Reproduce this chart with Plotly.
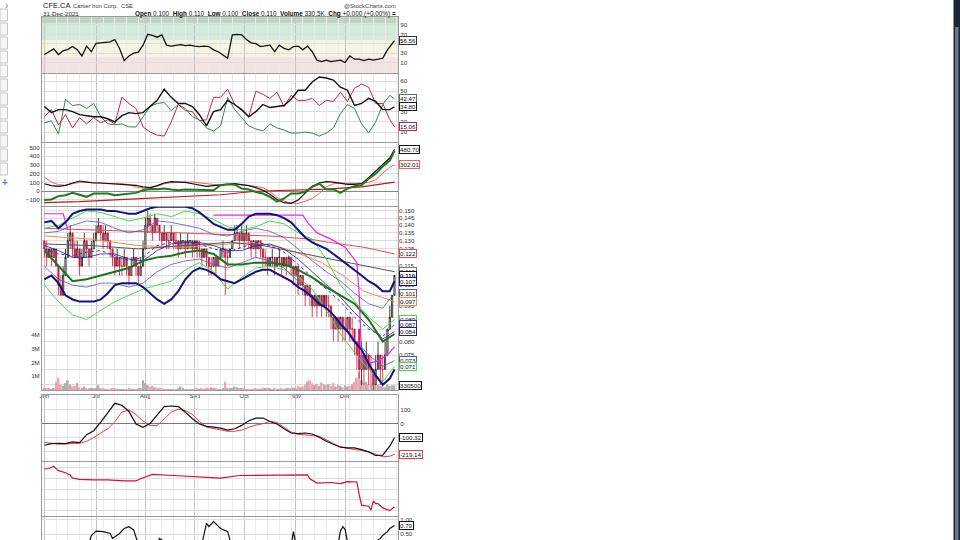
import math
import plotly.graph_objects as go

# ---------------- DATA ----------------
MONTHS = ["Jun", "Jul", "Aug", "Sep", "Oct", "Nov", "Dec"]
MONTH_IDX = [0, 22, 43, 64, 85, 107, 128]

OPEN = [0.13,0.125,0.12,0.125,0.12,0.125,0.115,0.105,0.10,0.11,
        0.12,0.13,0.135,0.125,0.12,0.125,0.115,0.12,0.13,0.125,
        0.12,0.125,0.13,0.135,0.14,0.135,0.13,0.135,0.13,0.125,
        0.12,0.115,0.12,0.115,0.115,0.12,0.115,0.11,0.115,0.12,
        0.115,0.11,0.115,0.125,0.14,0.145,0.14,0.135,0.145,0.14,
        0.135,0.13,0.135,0.13,0.13,0.135,0.13,0.13,0.125,0.13,
        0.13,0.125,0.13,0.13,0.125,0.13,0.125,0.125,0.12,0.125,
        0.12,0.115,0.115,0.12,0.115,0.12,0.125,0.125,0.12,0.12,
        0.125,0.13,0.135,0.135,0.13,0.135,0.13,0.135,0.13,0.125,
        0.13,0.125,0.13,0.125,0.12,0.12,0.115,0.12,0.12,0.115,
        0.12,0.12,0.115,0.12,0.115,0.12,0.115,0.11,0.115,0.105,
        0.11,0.105,0.10,0.105,0.10,0.095,0.10,0.095,0.10,0.095,
        0.10,0.095,0.095,0.09,0.085,0.09,0.085,0.09,0.085,0.085,
        0.09,0.085,0.085,0.08,0.085,0.07,0.075,0.07,0.075,0.07,
        0.07,0.065,0.07,0.075,0.07,0.07,0.075,0.085,0.09,0.10]
HIGH = [0.13,0.13,0.125,0.125,0.125,0.125,0.115,0.11,0.115,0.125,
        0.135,0.14,0.135,0.13,0.13,0.125,0.125,0.135,0.13,0.125,
        0.13,0.135,0.14,0.145,0.14,0.14,0.14,0.135,0.13,0.125,
        0.12,0.125,0.12,0.12,0.125,0.12,0.115,0.12,0.125,0.12,
        0.115,0.12,0.13,0.145,0.15,0.148,0.14,0.148,0.145,0.14,
        0.135,0.14,0.135,0.135,0.14,0.135,0.135,0.13,0.135,0.13,
        0.13,0.135,0.13,0.13,0.13,0.13,0.13,0.125,0.125,0.125,
        0.12,0.12,0.12,0.12,0.12,0.125,0.13,0.125,0.125,0.125,
        0.13,0.14,0.14,0.135,0.14,0.135,0.14,0.135,0.13,0.13,
        0.13,0.13,0.13,0.125,0.125,0.12,0.12,0.125,0.12,0.12,
        0.125,0.12,0.12,0.12,0.12,0.12,0.115,0.115,0.115,0.11,
        0.11,0.105,0.105,0.105,0.10,0.10,0.10,0.10,0.10,0.10,
        0.10,0.10,0.095,0.09,0.09,0.09,0.09,0.09,0.09,0.09,
        0.09,0.09,0.085,0.08,0.085,0.08,0.075,0.08,0.075,0.075,
        0.07,0.075,0.08,0.075,0.075,0.08,0.085,0.095,0.10,0.11]
LOW = [0.12,0.115,0.12,0.115,0.12,0.115,0.10,0.10,0.10,0.11,
       0.12,0.125,0.12,0.12,0.12,0.11,0.115,0.12,0.12,0.115,
       0.12,0.125,0.13,0.135,0.13,0.125,0.13,0.125,0.12,0.115,
       0.11,0.115,0.11,0.11,0.115,0.11,0.105,0.11,0.115,0.11,
       0.105,0.11,0.115,0.125,0.135,0.135,0.13,0.135,0.135,0.13,
       0.125,0.13,0.125,0.125,0.13,0.125,0.125,0.12,0.125,0.125,
       0.12,0.125,0.125,0.12,0.125,0.12,0.12,0.115,0.12,0.115,
       0.11,0.11,0.115,0.11,0.115,0.12,0.12,0.10,0.115,0.12,
       0.125,0.13,0.13,0.125,0.13,0.125,0.13,0.125,0.12,0.125,
       0.12,0.125,0.12,0.115,0.115,0.11,0.115,0.115,0.11,0.115,
       0.115,0.11,0.115,0.11,0.115,0.11,0.105,0.11,0.10,0.105,
       0.10,0.095,0.10,0.095,0.09,0.095,0.09,0.095,0.09,0.095,
       0.09,0.09,0.085,0.08,0.085,0.08,0.085,0.08,0.08,0.085,
       0.08,0.08,0.075,0.07,0.067,0.065,0.065,0.07,0.065,0.065,
       0.063,0.065,0.07,0.065,0.065,0.07,0.075,0.085,0.09,0.10]
CLOSE = [0.125,0.12,0.125,0.12,0.125,0.115,0.105,0.10,0.11,0.12,
         0.13,0.135,0.125,0.12,0.125,0.115,0.12,0.13,0.125,0.12,
         0.125,0.13,0.135,0.14,0.135,0.13,0.135,0.13,0.125,0.12,
         0.115,0.12,0.115,0.115,0.12,0.115,0.11,0.115,0.12,0.115,
         0.11,0.115,0.125,0.14,0.145,0.14,0.135,0.145,0.14,0.135,
         0.13,0.135,0.13,0.13,0.135,0.13,0.13,0.125,0.13,0.13,
         0.125,0.13,0.13,0.125,0.13,0.125,0.125,0.12,0.125,0.12,
         0.115,0.115,0.12,0.115,0.12,0.125,0.125,0.12,0.12,0.125,
         0.13,0.135,0.135,0.13,0.135,0.13,0.135,0.13,0.125,0.13,
         0.125,0.13,0.125,0.12,0.12,0.115,0.12,0.12,0.115,0.12,
         0.12,0.115,0.12,0.115,0.12,0.115,0.11,0.115,0.105,0.11,
         0.105,0.10,0.105,0.10,0.095,0.10,0.095,0.10,0.095,0.10,
         0.095,0.095,0.09,0.085,0.09,0.085,0.09,0.085,0.085,0.09,
         0.085,0.085,0.08,0.075,0.07,0.075,0.07,0.075,0.07,0.07,
         0.065,0.07,0.075,0.07,0.07,0.075,0.085,0.09,0.10,0.11]
VOLUME = [150000,120000,80000,60000,100000,600000,900000,400000,300000,500000,
          700000,400000,250000,300000,500000,200000,150000,250000,100000,80000,
          120000,90000,150000,350000,100000,80000,60000,50000,70000,90000,
          80000,60000,50000,40000,60000,70000,90000,50000,40000,60000,
          80000,150000,700000,500000,350000,250000,300000,200000,120000,90000,
          80000,60000,50000,70000,60000,50000,60000,80000,250000,100000,
          70000,60000,50000,40000,60000,80000,70000,90000,60000,100000,
          150000,200000,120000,80000,60000,70000,90000,600000,150000,100000,
          120000,250000,200000,100000,150000,80000,60000,70000,50000,60000,
          80000,70000,60000,90000,120000,150000,80000,60000,90000,70000,
          60000,90000,70000,80000,100000,120000,200000,150000,300000,200000,
          250000,400000,600000,700000,500000,350000,450000,300000,550000,400000,
          350000,450000,300000,500000,250000,400000,300000,200000,350000,250000,
          300000,400000,600000,900000,1300000,700000,500000,600000,450000,400000,
          500000,350000,400000,300000,250000,200000,400000,300000,350000,330500]

# RSI (every 2nd session + last)
RSI = [27,33,39,27,35,38,44,37,24,45,
       33,51,52,54,54,59,40,14,24,30,
       32,47,70,68,64,69,47,45,47,48,
       46,47,45,44,45,44,37,33,26,19,
       69,70,69,59,52,50,44,46,47,33,
       47,40,37,44,45,37,45,33,15,12,
       15,12,13,15,10,24,17,17,14,17,
       15,17,19,37,51,56.56]

# ADX / +DI / -DI (every 3rd session + last)
ADX = [35,29,32,32,30,27,26,25,25,23, 20,26,29,28,29,35,41,52,44,38,
       38,35,27,16,30,32,41,37,32,25, 30,37,34,35,36,42,51,51,59,64,
       63,61,54,51,36,38,43,40,32,32, 34.80]
PLUS_DI = [19,21,8,42,36,37,33,38,25,18, 17,18,15,15,25,35,38,39,31,37,
           33,25,22,14,11,16,44,32,24,16, 13,11,18,14,12,9,9,10,9,6,
           9,14,28,37,33,18,9,20,37,46, 42.47]
MINUS_DI = [25,32,17,27,14,24,18,24,19,22, 18,44,38,33,15,10,7,6,20,37,
            31,30,21,22,44,44,52,37,31,25, 50,47,43,49,35,46,41,41,43,36,
            41,40,49,40,53,57,54,38,38,22, 15.06]

# Momentum panel (every 3rd session + last)
MOM_BLACK = [86,64,56,68,94,117,105,94,94,90, 86,83,75,68,49,41,64,94,109,105,
             101,86,75,56,64,71,86,86,75,64, 41,11,-34,-94,-131,-139,-101,-19,56,94,
             109,105,94,79,79,86,154,229,304,380, 480.70]
MOM_SIGNAL = [162,105,75,68,86,101,105,98,90,86, 86,86,75,49,34,38,56,86,98,105,
              105,105,94,83,71,68,75,79,71,64, 56,41,-4,-71,-113,-135,-139,-116,-83,-26,
              49,86,94,90,86,90,101,131,207,274, 302.01]
MOM_GREEN = [-101,-94,-56,-45,-19,-45,-64,-26,-26,-26, -45,-34,-26,-19,11,26,23,30,19,11,
             19,19,11,11,11,68,79,75,30,19, -8,-26,-64,-120,-83,-26,-26,-8,49,86,
             19,23,-19,30,56,68,143,199,282,350, 462]
MOM_LONG_X = [0,15,30,45,60,75,90,105,120,135,149]
MOM_LONG = [-130,-120,-100,-80,-60,-40,0,10,25,50,105]

# Price overlays
BB_UPPER = [0.142,0.143,0.138,0.142,0.148,0.150,0.151,0.151,0.151,0.150,
            0.150,0.149,0.148,0.148,0.150,0.152,0.153,0.153,0.153,0.153,
            0.153,0.152,0.149,0.145,0.141,0.139,0.137,0.137,0.141,0.146,
            0.148,0.148,0.148,0.147,0.145,0.142,0.137,0.132,0.129,0.127,
            0.125,0.122,0.119,0.116,0.113,0.110,0.107,0.105,0.102,0.102,0.107]
BB_LOWER = [0.108,0.110,0.106,0.100,0.098,0.097,0.097,0.097,0.098,0.101,
            0.105,0.106,0.106,0.106,0.104,0.101,0.098,0.096,0.098,0.102,
            0.108,0.112,0.114,0.113,0.111,0.108,0.107,0.106,0.108,0.110,
            0.112,0.113,0.113,0.111,0.109,0.107,0.104,0.102,0.099,0.096,
            0.094,0.091,0.087,0.084,0.080,0.077,0.072,0.068,0.065,0.067,0.070]
ENV_UPPER = [0.138,0.14,0.145,0.15,0.149,0.146,0.143,0.145,0.148,0.146,0.15,0.148,0.144,
             0.139,0.137,0.139,0.143,0.141,0.135,0.131,0.119,0.105,0.097,0.090,0.085,0.089]
ENV_LOWER = [0.105,0.097,0.091,0.089,0.093,0.097,0.100,0.103,0.105,0.107,0.113,0.117,0.112,
             0.103,0.109,0.114,0.115,0.113,0.109,0.103,0.093,0.083,0.076,0.070,0.066,0.071]
KC_UPPER = [0.135,0.136,0.14,0.143,0.142,0.138,0.135,0.137,0.143,0.142,0.14,0.138,0.134,
            0.133,0.136,0.138,0.136,0.132,0.125,0.118,0.112,0.107,0.101,0.096,0.094,0.101]
KC_LOWER = [0.115,0.108,0.105,0.104,0.106,0.106,0.104,0.106,0.112,0.116,0.118,0.119,0.116,
            0.114,0.117,0.120,0.118,0.114,0.107,0.100,0.094,0.088,0.081,0.075,0.071,0.073]
KC_MID = [0.125,0.122,0.121,0.123,0.124,0.121,0.118,0.12,0.127,0.129,0.129,0.128,0.125,
          0.123,0.126,0.129,0.127,0.123,0.116,0.109,0.103,0.097,0.09,0.085,0.082,0.087]
NAVY_MID = [0.127,0.124,0.12,0.12,0.122,0.122,0.119,0.118,0.124,0.128,0.129,0.129,0.127,
            0.124,0.124,0.127,0.128,0.125,0.119,0.112,0.105,0.099,0.092,0.086,0.081,0.084]
STOP_LINE = [0.124,0.115,0.107,0.108,0.110,0.112,0.114,0.118,0.120,0.121,0.123,0.124,0.122,
             0.116,0.116,0.117,0.117,0.116,0.113,0.109,0.104,0.100,0.096,0.089,0.080,0.083]
CHAND_X = [0, 8, 10, None, 72, 110, 112, 116, 122, 128, 133, 134, 135, 138, 142, 146, 149]
CHAND = [0.148, 0.148, 0.137, None, 0.147, 0.147, 0.142, 0.135, 0.131, 0.126, 0.117,
         0.10, 0.074, 0.072, 0.073, 0.075, 0.078]
SMA200_X = [0, 20, 40, 60, 80, 96, 113, 121, 136, 149]
SMA200 = [0.138, 0.137, 0.136, 0.135, 0.134, 0.133, 0.131, 0.129, 0.126, 0.122]
SMA100_X = [0, 20, 40, 60, 79, 90, 100, 107, 118, 127, 136, 146, 149]
SMA100 = [0.133, 0.131, 0.127, 0.126, 0.128, 0.129, 0.126, 0.123, 0.117, 0.110, 0.102, 0.098, 0.097]
SMA50_X = [0, 20, 40, 60, 79, 93, 107, 121, 136, 149]
SMA50 = [0.128, 0.127, 0.125, 0.127, 0.129, 0.127, 0.123, 0.119, 0.115, 0.112]

# Oscillator panel (every 3rd session + last)
OSC = [-155,-143,-141,-143,-131,-136,-80,-52,9,80, 143,129,85,-4,-28,0,61,120,124,120,
       80,33,-4,-21,-26,-33,-47,-38,-14,19, 38,38,14,-4,-38,-68,-73,-68,-75,-98,
       -127,-150,-169,-174,-174,-186,-202,-228,-225,-162, -100.32]
OSC_SIG = [-134,-143,-148,-146,-143,-141,-127,-101,-68,-38, 12,80,96,63,16,-14,-16,33,80,101,
           92,63,14,-26,-35,-42,-56,-56,-47,-28, -12,-2,14,7,-26,-61,-77,-84,-87,-91,
           -120,-143,-167,-179,-186,-191,-202,-219,-237,-233, -219.14]

# Relative-strength style line
REL_X = [0,2,4,6,9,11,12,15,21,27,34,39,41,44,46,55,62,69,75,83,98,112,113,116,122,126,
         129,133,134,135,138,139,140,141,142,144,147,149]
REL = [87,88,92,84,80,76,70,68,67,67,65,65,69,74,77,75,73,72,70,75,76,76,69,61,62,60,
       63.5,63,39,20,18,11,28,23,23,15,10,17]

# Bottom panel
BOT_X = [0,19,20,21,22,25,28,29,32,34,36,38,39,40,48,49,50,51,67,68,69,70,72,75,78,79,80,
         105,106,107,125,126,127,128,129,141,143,144,146,147,148,149]
BOT = [0.2,0.2,0.45,0.52,0.60,0.58,0.52,0.35,0.52,0.69,0.75,0.64,0.3,0.15,0.15,0.35,0.3,0.15,
       0.15,0.5,0.86,0.75,0.92,0.69,0.58,0.3,0.1,0.1,0.58,0.15,0.15,0.6,0.75,0.65,0.25,0.25,
       0.35,0.45,0.58,0.69,0.75,0.79]

# ---------------- LAYOUT HELPERS ----------------
W, H = 960, 540
FONT = "Liberation Sans, Arial, sans-serif"
N = len(CLOSE)
DAYS = list(range(N))
RSI_X = list(range(0, N - 1, 2)) + [N - 1]
X3 = list(range(0, N - 2, 3)) + [N - 1]
X6 = list(range(0, N - 5, 6)) + [N - 1]


def fx(px):
    return px / W


def fy(py):
    return 1 - py / H


XD = [fx(42), fx(398)]
XR = [-1, 150.5]
PANELS = {1: (17, 73), 2: (74, 142), 3: (143, 206), 4: (207, 390),
          5: (395, 461), 6: (462, 516), 7: (517, 540)}

fig = go.Figure()


def line(x, y, xa, ya, color, width=1, dash=None):
    fig.add_trace(go.Scatter(x=x, y=y, xaxis=xa, yaxis=ya, mode="lines",
                             line=dict(color=color, width=width, dash=dash),
                             connectgaps=False, showlegend=False, hoverinfo="skip"))


# Panel 1: RSI
line(RSI_X, RSI, "x", "y", "#111111", 1.3)
# Panel 2: ADX
line(X3, PLUS_DI, "x2", "y2", "#2e8b45", 1)
line(X3, MINUS_DI, "x2", "y2", "#cc2250", 1)
line(X3, ADX, "x2", "y2", "#111111", 1.4)
# Panel 3
line(MOM_LONG_X, MOM_LONG, "x3", "y3", "#c01818", 1.2)
line(X3, MOM_SIGNAL, "x3", "y3", "#ff5a5a", 1)
line(X3, MOM_BLACK, "x3", "y3", "#111111", 1.2)
line(X3, MOM_GREEN, "x3", "y3", "#1d7a1d", 2)

# Panel 4: volume (base axis y4) + price (overlay y8)
vcol = ["#b0b0b0" if i == 0 or CLOSE[i] >= CLOSE[i - 1] else "#f2a4b0" for i in range(N)]
fig.add_trace(go.Bar(x=DAYS, y=VOLUME, xaxis="x4", yaxis="y4", marker=dict(color=vcol, line=dict(width=0)),
                     width=0.8, showlegend=False, hoverinfo="skip"))

line(SMA200_X, SMA200, "x4", "y8", "#e84a4a", 1)
line(SMA100_X, SMA100, "x4", "y8", "#f28a4a", 1)
line(SMA50_X, SMA50, "x4", "y8", "#555555", 1)
line(X6, ENV_UPPER, "x4", "y8", "#44dd44", 1)
line(X6, ENV_LOWER, "x4", "y8", "#44dd44", 1)
line(X6, KC_UPPER, "x4", "y8", "#5656b8", 0.8)
line(X6, KC_LOWER, "x4", "y8", "#5656b8", 0.8)
line(X6, NAVY_MID, "x4", "y8", "#20208a", 0.8)
line(X6, KC_MID, "x4", "y8", "#3333cc", 1, "dot")
line(X6, STOP_LINE, "x4", "y8", "#1a741a", 2)
line(CHAND_X, CHAND, "x4", "y8", "#ee22ee", 1.2)
line(X3, BB_UPPER, "x4", "y8", "#12127e", 2)
line(X3, BB_LOWER, "x4", "y8", "#12127e", 2)

fig.add_trace(go.Candlestick(x=DAYS, open=OPEN, high=HIGH, low=LOW, close=CLOSE,
                             xaxis="x4", yaxis="y8", whiskerwidth=0,
                             increasing=dict(line=dict(color="#111111", width=0.8), fillcolor="white"),
                             decreasing=dict(line=dict(color="#d0103a", width=0.8), fillcolor="#d0103a"),
                             showlegend=False, hoverinfo="skip"))

# Panel 5
line(X3, OSC_SIG, "x5", "y5", "#ff3535", 1)
line(X3, OSC, "x5", "y5", "#111111", 1.2)
# Panel 6
line(REL_X, REL, "x6", "y6", "#d0103a", 1.2)
# Panel 7
line(BOT_X, BOT, "x7", "y7", "#111111", 1.2)

# ---------------- AXES ----------------
tickfont = dict(family=FONT, size=6.2, color="#333333")
common_x = dict(range=XR, tickmode="array", tickvals=MONTH_IDX, ticktext=MONTHS,
                showgrid=True, gridcolor="#c4c4c4", gridwidth=1, zeroline=False,
                showline=True, mirror=True, linecolor="#9a9a9a", linewidth=1,
                minor=dict(tickmode="linear", tick0=0, dtick=5, showgrid=True, gridcolor="#ebebeb"),
                ticks="", fixedrange=True, automargin=False,
                tickfont=dict(family=FONT, size=6, color="#333333"))

layout_axes = {}
for k in range(1, 8):
    name = "xaxis" if k == 1 else f"xaxis{k}"
    yname = "y" if k == 1 else f"y{k}"
    ax = dict(common_x, domain=XD, anchor=yname, showticklabels=(k == 4))
    if k == 4:
        ax["rangeslider"] = dict(visible=False)
    layout_axes[name] = ax


def ydom(k):
    top, bot = PANELS[k]
    return [fy(bot), fy(top)]


common_y = dict(showgrid=True, gridcolor="#dedede", zeroline=False, showline=True, mirror=True,
                linecolor="#9a9a9a", linewidth=1, ticks="", tickfont=tickfont, fixedrange=True,
                automargin=False)

layout_axes["yaxis"] = dict(common_y, domain=ydom(1), anchor="x", side="right", range=[-12.4, 107],
                            tickvals=[10, 30, 50, 70, 90], ticktext=["10", "30", "", "70", "90"])
layout_axes["yaxis2"] = dict(common_y, domain=ydom(2), anchor="x2", side="right", range=[0.2, 66.9],
                             tickvals=[10, 20, 30, 40, 50, 60], ticktext=["10", "20", "30", "", "50", "60"])
layout_axes["yaxis3"] = dict(common_y, domain=ydom(3), anchor="x3", side="left", range=[-169, 552],
                             tickvals=[-100, 0, 100, 200, 300, 400, 500], zeroline=True,
                             zerolinecolor="#888888", zerolinewidth=1)
layout_axes["yaxis4"] = dict(common_y, domain=ydom(4), anchor="x4", side="left", range=[0, 13.3e6],
                             tickvals=[1e6, 2e6, 3e6, 4e6], ticktext=["1M", "2M", "3M", "4M"],
                             showgrid=False)
PRICE_TICKS = [0.065 + 0.005 * k for k in range(18)]
HIDDEN = {0.065, 0.07, 0.085, 0.09, 0.1, 0.11, 0.12}
layout_axes["yaxis8"] = dict(common_y, overlaying="y4", anchor="x4", side="right", type="log",
                             range=[math.log10(0.0634), math.log10(0.1529)],
                             tickvals=PRICE_TICKS,
                             ticktext=["" if round(v, 3) in HIDDEN else f"{v:.3f}" for v in PRICE_TICKS],
                             showline=False)
layout_axes["yaxis5"] = dict(common_y, domain=ydom(5), anchor="x5", side="right", range=[-267, 202],
                             tickvals=[-200, -100, 0, 100], ticktext=["", "", "0", "100"],
                             zeroline=True, zerolinecolor="#777777", zerolinewidth=1)
layout_axes["yaxis6"] = dict(common_y, domain=ydom(6), anchor="x6", side="right", range=[0, 100],
                             tickvals=[10, 30, 50, 70, 90], showticklabels=False)
layout_axes["yaxis7"] = dict(common_y, domain=ydom(7), anchor="x7", side="right", range=[0.296, 1.08],
                             tickvals=[0.5, 1.0], ticktext=["0.50", "1.00"])

fig.update_layout(width=W, height=H, margin=dict(l=0, r=0, t=0, b=0, pad=0, autoexpand=False),
                  paper_bgcolor="white", plot_bgcolor="white", showlegend=False,
                  font=dict(family=FONT, size=7, color="#222222"), **layout_axes)

# ---------------- SHAPES ----------------
shapes = []
for y0, y1, col in [(94, 107, "#bcd6c2"), (58, 94, "#d3ebda"), (22, 58, "#f6f4de"), (-12.4, 22, "#f4e2e5")]:
    shapes.append(dict(type="rect", xref="paper", yref="y", x0=XD[0], x1=XD[1], y0=y0, y1=y1,
                       fillcolor=col, line=dict(width=0), layer="below"))
# left toolbar buttons
for k in range(12):
    top = 9 + 14 * k
    shapes.append(dict(type="rect", xref="paper", yref="paper", x0=0, x1=fx(7.5),
                       y0=fy(top + 12), y1=fy(top), fillcolor="#f6f6f6",
                       line=dict(color="#c4c4c4", width=1)))
# right dark strip with scrollbar
shapes.append(dict(type="rect", xref="paper", yref="paper", x0=fx(953.5), x1=1, y0=0, y1=1,
                   fillcolor="#18253a", line=dict(width=0)))
shapes.append(dict(type="rect", xref="paper", yref="paper", x0=fx(955), x1=fx(958.5), y0=0, y1=fy(27),
                   fillcolor="#6c7686", line=dict(width=0)))
fig.update_layout(shapes=shapes)

# ---------------- ANNOTATIONS ----------------


def text(px, py, s, size=7, anchor="left", color="#222222"):
    fig.add_annotation(x=fx(px), y=fy(py), xref="paper", yref="paper", text=s, showarrow=False,
                       xanchor=anchor, yanchor="middle", font=dict(family=FONT, size=size, color=color))


text(41, 5, "CFE.CA", 7.5, color="#1a1a1a")
text(71, 5.5, "Cartier Iron Corp.  CSE", 5.8, color="#333333")
text(398, 5.5, "@StockCharts.com", 6, anchor="right", color="#444444")
text(41, 13.5, "31-Dec-2021", 6.2, color="#222222")
text(398, 13.5, "<b>Open</b> 0.100  <b>High</b> 0.110  <b>Low</b> 0.100  <b>Close</b> 0.110  "
     "<b>Volume</b> 330.5K  <b>Chg</b> +0.000 (+0.00%) <b>=</b>", 6.4, anchor="right", color="#111111")
text(6.5, 5, "›", 10, anchor="center", color="#5a86b0")
text(5, 182, "<b>+</b>", 10, anchor="center", color="#5a86b0")


def tag(yref, y, s, color, bold=False):
    fig.add_annotation(x=fx(399), xref="paper", xanchor="left", y=y, yref=yref, yanchor="middle",
                       text=f"<b>{s}</b>" if bold else s, showarrow=False,
                       font=dict(family=FONT, size=6.2, color="#111111"),
                       bordercolor=color, borderwidth=1, borderpad=0, bgcolor="white")


tag("y", RSI[-1], f"{RSI[-1]:.2f}", "#333333")
tag("y2", PLUS_DI[-1], f"{PLUS_DI[-1]:.2f}", "#2e8b45")
tag("y2", ADX[-1], f"{ADX[-1]:.2f}", "#111111")
tag("y2", MINUS_DI[-1], f"{MINUS_DI[-1]:.2f}", "#cc2250")
tag("y3", MOM_BLACK[-1], f"{MOM_BLACK[-1]:.2f}", "#111111")
tag("y3", MOM_SIGNAL[-1], f"{MOM_SIGNAL[-1]:.2f}", "#ff5a5a")
tag("y5", OSC[-1], f"{OSC[-1]:.2f}", "#111111")
tag("y5", OSC_SIG[-1], f"{OSC_SIG[-1]:.2f}", "#ff3535")
tag("y7", BOT[-1], f"{BOT[-1]:.2f}", "#111111")
tag("y4", VOLUME[-1], f"{VOLUME[-1]}", "#111111")

for val, col, bold in [(SMA200[-1], "#e84a4a", False), (SMA50[-1], "#777777", False),
                       (CLOSE[-1], "#111111", True), (BB_UPPER[-1], "#12127e", False),
                       (KC_UPPER[-1], "#5656b8", False), (SMA100[-1], "#f28a4a", False),
                       (ENV_UPPER[-1], "#44dd44", False), (KC_MID[-1], "#3333cc", False),
                       (NAVY_MID[-1], "#20208a", False), (KC_LOWER[-1], "#5656b8", False),
                       (ENV_LOWER[-1], "#44dd44", False)]:
    tag("y8", math.log10(val), f"{val:.3f}", col, bold)

fig.write_html("out.html", config={"displayModeBar": False},
               post_script="document.body.style.margin='0px';")
